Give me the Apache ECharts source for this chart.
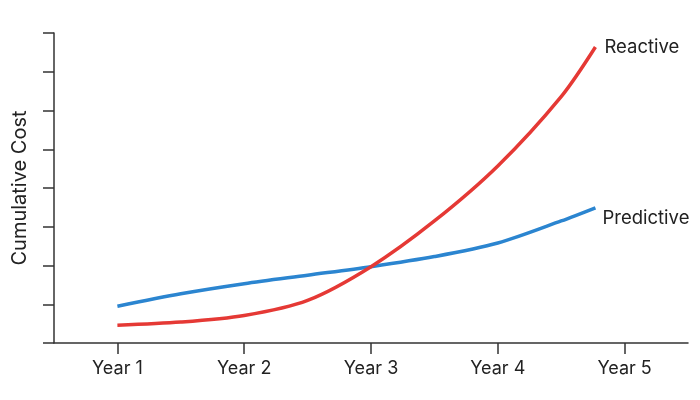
<!DOCTYPE html>
<html>
<head>
<meta charset="utf-8">
<script src="https://cdn.jsdelivr.net/npm/echarts@6/dist/echarts.min.js"></script>
<style>
    html, body { margin: 0; padding: 0; background: #fff; }
    #cn1 { width: 700px; height: 400px; }
</style>
</head>
<body>
<div id="cn1"></div>
<script>
'use strict';

// year positions (Year 1 = 1) and values
const arrX = [1, 1.5, 2, 2.5, 3, 3.5, 4, 4.5, 4.77];
const arrPredictive = [0.95, 1.27, 1.53, 1.75, 1.97, 2.23, 2.58, 3.15, 3.49];
const arrReactive = [0.46, 0.54, 0.71, 1.10, 1.97, 3.15, 4.57, 6.36, 7.64];
const arrYearTicks = [1, 2, 3, 4, 5];

const toPairs = (arrVal) => arrX.map((x, i) => [x, arrVal[i]]);

const echartsLine = echarts.init(cn1);

const txtColor = '#222';
const axisColor = '#333';
const fontName = 'Inter';

const optionLine = {
    animation: false,
    grid: {
        left: 54,
        right: 12,
        top: 33,
        bottom: 57
    },
    xAxis: {
        type: 'value',
        min: 0.5,
        max: 5.5,
        splitLine: { show: false },
        axisLine: { show: true, onZero: false, lineStyle: { color: axisColor, width: 1.5 } },
        axisTick: {
            show: true,
            length: 11,
            customValues: arrYearTicks,
            lineStyle: { color: axisColor, width: 1.5 }
        },
        axisLabel: {
            customValues: arrYearTicks,
            formatter: v => `Year ${v}`,
            color: txtColor,
            fontSize: 18,
            fontFamily: fontName,
            margin: 17
        }
    },
    yAxis: {
        type: 'value',
        min: 0,
        max: 8,
        interval: 1,
        name: 'Cumulative Cost',
        nameLocation: 'middle',
        nameGap: 24,
        nameTextStyle: { color: txtColor, fontSize: 20, fontFamily: fontName },
        splitLine: { show: false },
        axisLine: { show: true, lineStyle: { color: axisColor, width: 1.5 } },
        axisTick: { show: true, length: 11, lineStyle: { color: axisColor, width: 1.5 } },
        axisLabel: { show: false }
    },
    series: [{
        name: 'Predictive',
        type: 'line',
        smooth: 0.3,
        symbol: 'none',
        lineStyle: { color: '#2b85d0', width: 3.5 },
        data: toPairs(arrPredictive),
        endLabel: {
            show: true,
            formatter: '{a}',
            color: txtColor,
            fontSize: 18.5,
            fontFamily: fontName,
            distance: 7,
            offset: [0, 11]
        }
    }, {
        name: 'Reactive',
        type: 'line',
        smooth: 0.3,
        symbol: 'none',
        lineStyle: { color: '#e53935', width: 3.5 },
        data: toPairs(arrReactive),
        endLabel: {
            show: true,
            formatter: '{a}',
            color: txtColor,
            fontSize: 18.5,
            fontFamily: fontName,
            distance: 9,
            offset: [0, 0]
        }
    }]
};

echartsLine.setOption(optionLine);
</script>
</body>
</html>
